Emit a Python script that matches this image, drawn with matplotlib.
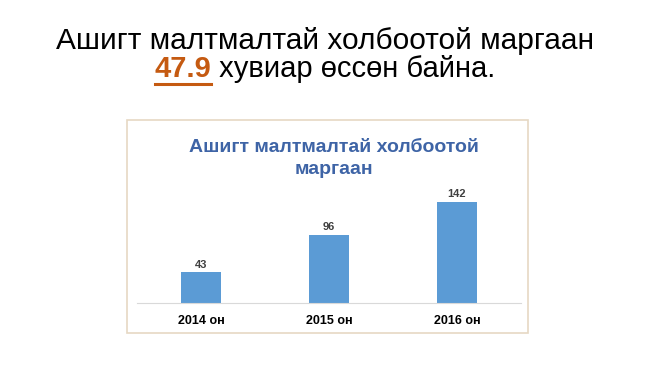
import matplotlib
matplotlib.use('Agg')
import matplotlib.pyplot as plt
from matplotlib.patches import Rectangle

plt.rcParams['font.family'] = ['Liberation Sans', 'DejaVu Sans']

years = ['2014 он', '2015 он', '2016 он']
cases = [43, 96, 142]
growth = '47.9'

fig = plt.figure(figsize=(6.5, 3.65), dpi=100)
fig.patch.set_facecolor('white')
W, H = 650, 365

# slide heading
fig.text(0.5, 1 - 41 / H, 'Ашигт малтмалтай холбоотой маргаан', ha='center', va='center',
         fontsize=21.5, color='black')
y2 = 1 - 69 / H
t1 = fig.text(0.5, y2, growth, ha='right', va='center', fontsize=21,
              color='#C55A11', fontweight='bold')
t2 = fig.text(0.5, y2, ' хувиар өссөн байна.', ha='left', va='center',
              fontsize=21, color='black')
fig.canvas.draw()
r = fig.canvas.get_renderer()
w1 = t1.get_window_extent(r).width / W
w2 = t2.get_window_extent(r).width / W
shift = (w1 - w2) / 2
t1.set_x(0.5 + shift)
t2.set_x(0.5 + shift)
bb = t1.get_window_extent(r)
fig.add_artist(plt.Line2D([bb.x0 / W, bb.x1 / W], [1 - 84 / H, 1 - 84 / H],
                          color='#C55A11', lw=2.2))

# chart frame
fig.add_artist(Rectangle((127 / W, 1 - 333 / H), 401 / W, 213 / H,
                         transform=fig.transFigure, fill=False,
                         edgecolor='#E6D8C3', lw=1.2))

fig.text(334 / W, 1 - 147 / H, 'Ашигт малтмалтай холбоотой', ha='center',
         va='center', fontsize=14, fontweight='bold', color='#3E64A6')
fig.text(334 / W, 1 - 169 / H, 'маргаан', ha='center',
         va='center', fontsize=14, fontweight='bold', color='#3E64A6')

ax = fig.add_axes([137 / W, 62 / H, 384 / W, 114 / H])
x = range(len(years))
bars = ax.bar(x, cases, width=0.31, color='#5B9BD5')
for b, v in zip(bars, cases):
    ax.text(b.get_x() + b.get_width() / 2, v + 4, str(v), ha='center', va='bottom',
            fontsize=8, fontweight='bold', color='#404040')
ax.set_xlim(-0.5, 2.5)
ax.set_ylim(0, 160)
ax.set_xticks(list(x))
ax.set_xticklabels(years, fontsize=9, fontweight='bold')
ax.tick_params(axis='x', length=0, pad=9)
ax.set_yticks([])
for s in ['top', 'left', 'right']:
    ax.spines[s].set_visible(False)
ax.spines['bottom'].set_color('#D9D9D9')
ax.patch.set_alpha(0)

fig.savefig('out.png', dpi=100)
